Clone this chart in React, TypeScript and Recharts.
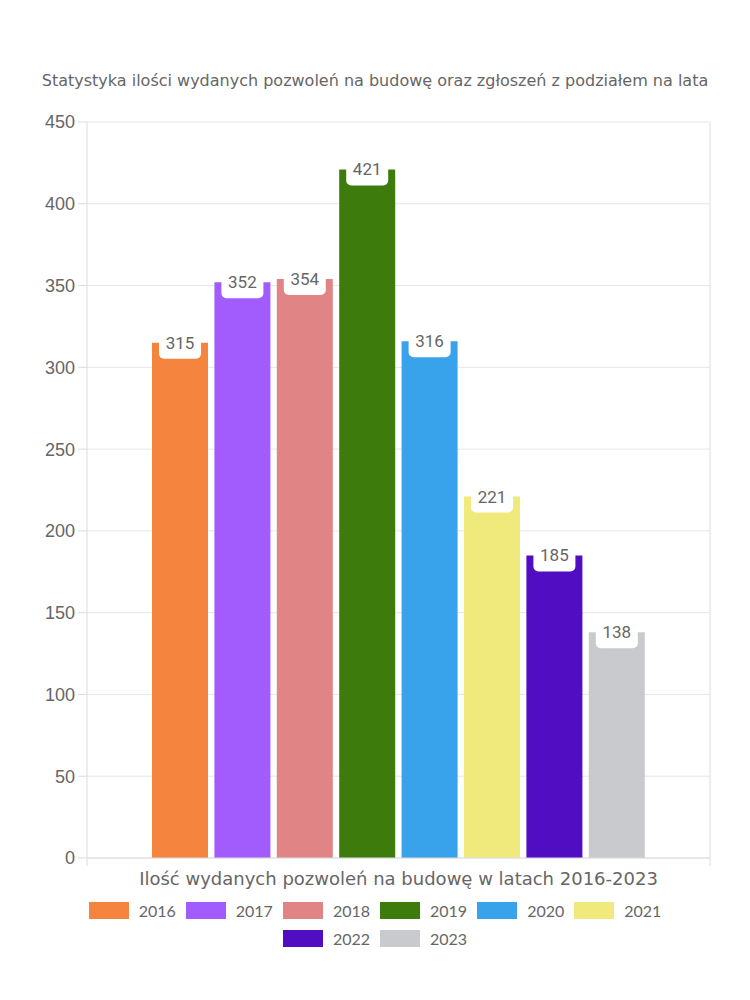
import { Bar, BarChart, CartesianGrid, LabelList, Legend, XAxis, YAxis, usePlotArea } from 'recharts'

const title = 'Statystyka ilości wydanych pozwoleń na budowę oraz zgłoszeń z podziałem na lata'
const category = 'Ilość wydanych pozwoleń na budowę w latach 2016-2023'
const years = ['2016', '2017', '2018', '2019', '2020', '2021', '2022', '2023']
const permits = [315, 352, 354, 421, 316, 221, 185, 138]
const colors = ['#f5843f', '#a25bfd', '#e08485', '#3e7b0d', '#38a2ea', '#f0ea7d', '#500dc2', '#c9cacd']
const yTicks = [0, 50, 100, 150, 200, 250, 300, 350, 400, 450]

const data = [{ category, ...Object.fromEntries(years.map((y, i) => [y, permits[i]])) }]

const GRID = '#e6e6e6'
const AXIS = '#dcdcdc'
const TEXT = '#666'

function ValueTag(props: any) {
  const { x, y, width, value } = props
  const cx = Number(x) + Number(width) / 2
  const top = Number(y)
  return (
    <g>
      <rect x={cx - 21} y={top - 16} width={42} height={32} rx={5} fill="#fff" />
      <text
        x={cx}
        y={top}
        textAnchor="middle"
        dominantBaseline="central"
        fontFamily="Roboto"
        fontSize={17}
        fill={TEXT}
      >
        {value}
      </text>
    </g>
  )
}

// prawa krawędź wykresu i krótkie kreski pod osią X (jak siatka z offsetem)
function PlotEdges() {
  const area = usePlotArea()
  if (!area) return null
  const bottom = area.y + area.height
  const right = area.x + area.width
  return (
    <g>
      <line x1={right} y1={area.y} x2={right} y2={bottom + 8} stroke={AXIS} />
      <line x1={area.x} y1={bottom} x2={area.x} y2={bottom + 8} stroke={AXIS} />
    </g>
  )
}

function YearLegend({ payload }: any) {
  return (
    <div style={{ display: 'flex', flexWrap: 'wrap', justifyContent: 'center', fontFamily: 'Lato', fontSize: 16, color: TEXT }}>
      {(payload || []).map((entry: any) => (
        <div key={entry.value} style={{ display: 'flex', alignItems: 'center', height: 28.5, margin: '0 5px' }}>
          <span style={{ display: 'inline-block', width: 40, height: 17, background: entry.color, marginRight: 10 }} />
          <span>{entry.value}</span>
        </div>
      ))}
    </div>
  )
}

export default function App() {
  return (
    <div style={{ position: 'absolute', left: 0, top: 0, width: 750, height: 1000, background: '#fff' }}>
      <div
        style={{
          position: 'absolute',
          top: 70,
          left: 0,
          width: 750,
          textAlign: 'center',
          fontFamily: 'DejaVu Sans',
          fontSize: 16,
          lineHeight: '22px',
          color: TEXT,
        }}
      >
        {title}
      </div>
      <BarChart
        width={750}
        height={1000}
        data={data}
        margin={{ top: 122, right: 40, bottom: 102, left: 0 }}
        barSize={56}
        barGap={6.4}
      >
        <CartesianGrid stroke={GRID} vertical={false} />
        <XAxis
          dataKey="category"
          height={40}
          tickLine={false}
          tickSize={0}
          tickMargin={14}
          axisLine={{ stroke: AXIS }}
          tick={{ fill: TEXT, fontSize: 18, fontFamily: 'DejaVu Sans' }}
        />
        <YAxis
          width={87}
          domain={[0, 450]}
          ticks={yTicks}
          interval={0}
          tickSize={9}
          tickMargin={3}
          axisLine={{ stroke: AXIS }}
          tickLine={{ stroke: AXIS }}
          tick={{ fill: TEXT, fontSize: 18, fontFamily: 'Liberation Sans' }}
        />
        <Legend
          verticalAlign="middle"
          align="center"
          wrapperStyle={{ top: 896, left: 75, width: 600 }}
          content={<YearLegend />}
        />
        {years.map((year, i) => (
          <Bar key={year} dataKey={year} name={year} fill={colors[i]} isAnimationActive={false}>
            <LabelList dataKey={year} content={<ValueTag />} />
          </Bar>
        ))}
        <PlotEdges />
      </BarChart>
    </div>
  )
}
